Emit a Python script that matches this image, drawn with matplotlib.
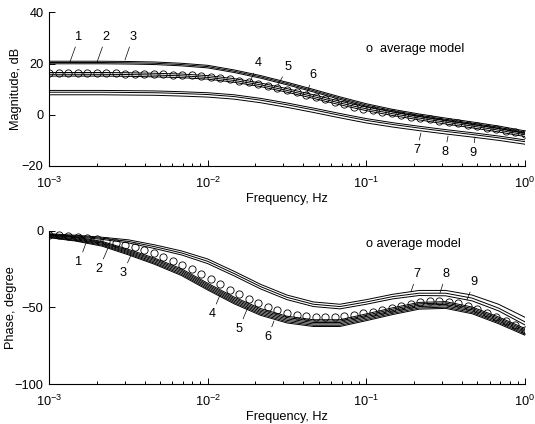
import numpy as np
import matplotlib
matplotlib.use("Agg")
import matplotlib.pyplot as plt

plt.rcParams["font.family"] = ["Liberation Sans", "DejaVu Sans"]
plt.rcParams["mathtext.default"] = "regular"

# frequency grids (Hz): model curves and the "average model" circles
freq_lines = np.logspace(-3, 0, 19)
freq_avg = np.logspace(-3, 0, 51)

# magnitude, dB (models 1..9)
mag_1 = [20.9, 20.9, 20.9, 20.8, 20.6, 20.1, 19.3, 17.5, 15.3, 12.7, 9.9, 7.0, 4.3, 2.1, 0.3, -1.3, -2.8, -4.4, -6.3]
mag_2 = [20.4, 20.4, 20.4, 20.3, 20.1, 19.6, 18.8, 17.0, 14.8, 12.2, 9.4, 6.5, 3.8, 1.6, -0.2, -1.8, -3.3, -4.9, -6.8]
mag_3 = [19.9, 19.9, 19.9, 19.8, 19.6, 19.1, 18.3, 16.5, 14.3, 11.7, 8.9, 6.0, 3.3, 1.1, -0.7, -2.3, -3.8, -5.4, -7.3]
mag_4 = [16.5, 16.5, 16.5, 16.4, 16.2, 15.9, 15.3, 14.1, 12.4, 10.2, 7.8, 5.3, 3.0, 1.1, -0.6, -2.2, -3.7, -5.3, -7.1]
mag_5 = [15.8, 15.8, 15.8, 15.7, 15.5, 15.2, 14.6, 13.4, 11.7, 9.5, 7.1, 4.6, 2.3, 0.4, -1.3, -2.9, -4.4, -6.0, -7.8]
mag_6 = [15.1, 15.1, 15.1, 15.0, 14.8, 14.5, 13.9, 12.7, 11.0, 8.8, 6.4, 3.9, 1.6, -0.3, -2.0, -3.6, -5.1, -6.7, -8.5]
mag_7 = [9.5, 9.5, 9.5, 9.4, 9.3, 9.0, 8.6, 7.8, 6.4, 4.6, 2.6, 0.5, -1.5, -3.1, -4.5, -5.8, -7.0, -8.3, -9.8]
mag_8 = [8.8, 8.8, 8.8, 8.7, 8.6, 8.3, 7.9, 7.1, 5.7, 3.9, 1.9, -0.2, -2.2, -3.8, -5.2, -6.5, -7.7, -9.0, -10.5]
mag_9 = [7.8, 7.8, 7.8, 7.7, 7.6, 7.3, 6.9, 6.1, 4.7, 2.9, 0.9, -1.2, -3.2, -4.8, -6.2, -7.5, -8.7, -10.0, -11.5]

mag_avg = [16.3, 16.3, 16.3, 16.3, 16.3, 16.2, 16.2, 16.2, 16.1, 16.1,
           16.0, 15.9, 15.8, 15.7, 15.6, 15.4, 15.2, 14.9, 14.5, 13.9,
           13.3, 12.7, 12.0, 11.3, 10.5, 9.6, 8.7, 7.8, 6.9, 6.0,
           5.0, 4.1, 3.2, 2.4, 1.7, 1.1, 0.5, -0.1, -0.7, -1.3,
           -1.8, -2.3, -2.9, -3.4, -3.9, -4.4, -5.0, -5.6, -6.2, -6.8, -7.5]

# phase, degree (models 1..9)
ph_1 = [-2.4, -4.2, -7.0, -12.2, -18.0, -24.8, -34.3, -43.3, -50.8, -55.8, -58.1, -58.1, -54.3, -50.3, -46.8, -46.3, -49.8, -56.3, -63.8]
ph_2 = [-2.9, -4.7, -7.6, -13.0, -18.8, -25.7, -35.2, -44.2, -51.7, -56.7, -59.0, -59.0, -55.2, -51.2, -47.7, -47.2, -50.7, -57.2, -64.7]
ph_3 = [-3.3, -5.3, -8.2, -13.7, -19.6, -26.6, -36.1, -45.1, -52.6, -57.6, -59.9, -59.9, -56.1, -52.1, -48.6, -48.1, -51.6, -58.1, -65.6]
ph_4 = [-3.8, -5.8, -8.9, -14.4, -20.5, -27.5, -37.0, -46.0, -53.5, -58.5, -60.8, -60.8, -57.0, -53.0, -49.5, -49.0, -52.5, -59.0, -66.5]
ph_5 = [-4.2, -6.4, -9.5, -15.1, -21.3, -28.4, -37.9, -46.9, -54.4, -59.4, -61.7, -61.7, -57.9, -53.9, -50.4, -49.9, -53.4, -59.9, -67.4]
ph_6 = [-4.6, -6.8, -10.1, -15.8, -22.0, -29.2, -38.7, -47.7, -55.2, -60.2, -62.5, -62.5, -58.7, -54.7, -51.2, -50.7, -54.2, -60.7, -68.2]
ph_7 = [-2.0, -3.0, -4.3, -6.0, -9.3, -13.2, -18.5, -26.5, -35.0, -42.0, -46.5, -48.0, -45.0, -41.5, -39.0, -39.0, -42.0, -48.0, -56.5]
ph_8 = [-2.5, -3.5, -5.0, -7.0, -10.5, -14.5, -20.0, -28.0, -36.5, -43.5, -48.0, -49.5, -46.5, -43.0, -40.8, -40.8, -44.0, -50.5, -59.5]
ph_9 = [-3.0, -4.0, -5.7, -8.0, -11.7, -15.8, -21.5, -29.5, -38.0, -45.0, -49.5, -51.0, -48.0, -44.5, -42.3, -42.5, -45.8, -52.3, -61.5]

ph_avg = [-2.6, -3.0, -3.5, -4.1, -4.8, -5.6, -6.6, -7.8, -9.3, -11.0,
          -12.6, -14.6, -16.9, -19.5, -22.3, -25.3, -28.5, -31.8, -35.1, -38.4,
          -41.5, -44.4, -47.1, -49.5, -51.6, -53.4, -54.8, -55.8, -56.3, -56.5,
          -56.4, -55.9, -55.1, -54.0, -52.9, -51.7, -50.5, -49.2, -47.9, -46.8,
          -46.0, -45.8, -46.3, -47.5, -49.2, -51.3, -53.7, -56.3, -59.0, -61.8, -64.6]

mag_models = [mag_1, mag_2, mag_3, mag_4, mag_5, mag_6, mag_7, mag_8, mag_9]
ph_models = [ph_1, ph_2, ph_3, ph_4, ph_5, ph_6, ph_7, ph_8, ph_9]

model_names = ["1", "2", "3", "4", "5", "6", "7", "8", "9"]

# label positions: (log10 f text, value text, log10 f point, value point)
mag_labels = [(-2.811, 30.4, -2.868, 20.6), (-2.641, 30.4, -2.697, 20.6), (-2.471, 30.4, -2.521, 21.4),
              (-1.683, 20.2, -1.733, 12.8), (-1.494, 18.7, -1.557, 11.6), (-1.336, 15.5, -1.374, 8.5),
              (-0.681, -13.8, -0.656, -7.1), (-0.504, -14.6, -0.485, -8.3), (-0.328, -14.9, -0.315, -8.7)]
ph_labels = [(-2.811, -20.5, -2.767, -8.1), (-2.685, -25.0, -2.628, -11.3), (-2.534, -27.6, -2.483, -15.9),
             (-1.973, -54.4, -1.922, -42.0), (-1.803, -64.1, -1.746, -49.8), (-1.620, -69.3, -1.582, -58.9),
             (-0.681, -28.3, -0.719, -40.0), (-0.498, -28.3, -0.536, -40.7), (-0.321, -33.5, -0.366, -45.2)]


def style_axis(ax, ylim, yticks, ylabel, ylabel_x):
    ax.set_xscale("log")
    ax.set_xlim(1e-3, 1)
    ax.set_ylim(*ylim)
    ax.set_yticks(yticks)
    ax.spines["top"].set_visible(False)
    ax.spines["right"].set_visible(False)
    ax.spines["left"].set_linewidth(0.8)
    ax.spines["bottom"].set_linewidth(0.8)
    ax.tick_params(which="both", direction="in", labelsize=9.2, width=0.7)
    ax.tick_params(which="major", length=4)
    ax.tick_params(axis="x", which="major", pad=7)
    ax.tick_params(axis="y", which="major", pad=4)
    ax.tick_params(which="minor", length=2.5)
    ax.set_xlabel("Frequency, Hz", fontsize=9.2)
    ax.xaxis.set_label_coords(0.5, -0.175)
    ax.set_ylabel(ylabel, fontsize=9.2)
    ax.yaxis.set_label_coords(ylabel_x, 0.5)


def draw_panel(ax, models, avg, labels, legend_y, legend_text):
    for values in models:
        ax.plot(freq_lines, values, color="black", linewidth=0.7)
    ax.plot(freq_avg, avg, linestyle="none", marker="o", markersize=5.2,
            markerfacecolor="none", markeredgecolor="black", markeredgewidth=0.6)
    for name, (ft, vt, fp, vp) in zip(model_names, labels):
        ax.annotate(name, xy=(10 ** fp, vp), xytext=(10 ** ft, vt),
                    ha="center", va="center", fontsize=9.2,
                    arrowprops=dict(arrowstyle="-", color="black", lw=0.5, shrinkA=1, shrinkB=0))
    ax.text(0.1, legend_y, legend_text, ha="left", va="center", fontsize=9.2)


fig = plt.figure(figsize=(5.35, 4.24), dpi=100)
ax1 = fig.add_axes([0.0916, 0.6085, 0.8897, 0.3625])
ax2 = fig.add_axes([0.0916, 0.0943, 0.8897, 0.3618])

draw_panel(ax1, mag_models, mag_avg, mag_labels, 25.7, "o  average model")
style_axis(ax1, (-20, 40), [-20, 0, 20, 40], "Magnitude, dB", -0.057)

draw_panel(ax2, ph_models, ph_avg, ph_labels, -8.7, "o average model")
style_axis(ax2, (-100, 0), [-100, -50, 0], "Phase, degree", -0.067)

fig.savefig("out.png", dpi=100)
